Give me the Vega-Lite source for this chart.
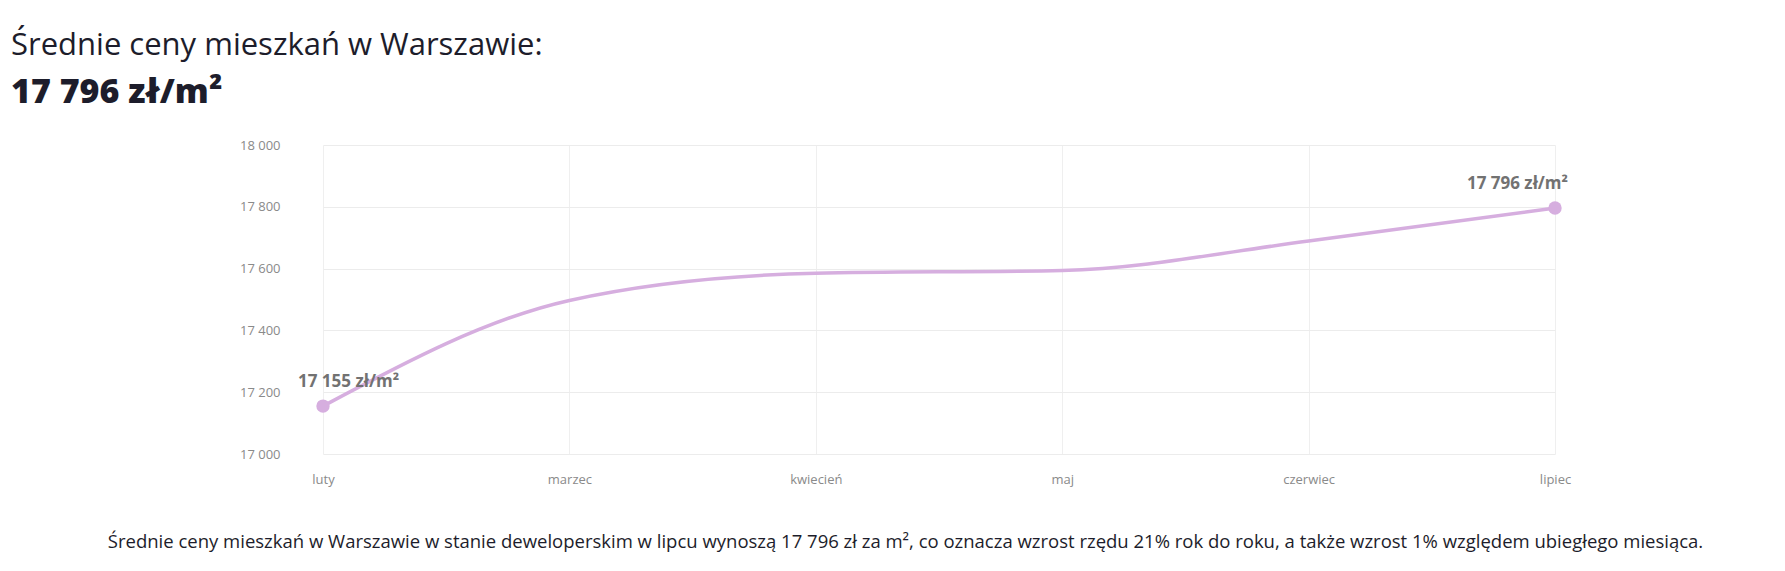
{
  "$schema": "https://vega.github.io/schema/vega-lite/v6.json",
  "width": 1270,
  "height": 309,
  "autosize": "none",
  "padding": {"left": 298, "top": 145, "right": 217, "bottom": 117},
  "background": "white",
  "config": {
    "font": "Open Sans",
    "view": {"stroke": null}
  },
  "title": {
    "text": "Średnie ceny mieszkań w Warszawie:",
    "subtitle": "17 796 zł/m²",
    "anchor": "start",
    "frame": "group",
    "dx": -287,
    "offset": 28,
    "font": "Open Sans",
    "fontSize": 31,
    "fontWeight": "normal",
    "color": "#1d1d2b",
    "subtitleFont": "Open Sans",
    "subtitleFontSize": 34,
    "subtitleFontWeight": 800,
    "subtitleColor": "#1d1d2b",
    "subtitlePadding": 14
  },
  "data": {
    "values": [
      {"month": "luty", "price": 17155, "label": "17 155 zł/m²"},
      {"month": "marzec", "price": 17497},
      {"month": "kwiecień", "price": 17585},
      {"month": "maj", "price": 17594},
      {"month": "czerwiec", "price": 17689},
      {"month": "lipiec", "price": 17796, "label": "17 796 zł/m²"}
    ]
  },
  "encoding": {
    "x": {
      "field": "month",
      "type": "ordinal",
      "sort": null,
      "scale": {"type": "point", "range": [25, 1257], "padding": 0},
      "axis": {
        "title": "Średnie ceny mieszkań w Warszawie w stanie deweloperskim w lipcu wynoszą 17 796 zł za m², co oznacza wzrost rzędu 21% rok do roku, a także wzrost 1% względem ubiegłego miesiąca.",
        "titleFont": "Open Sans",
        "titleFontSize": 18.5,
        "titleFontWeight": "normal",
        "titleColor": "#1d1d2b",
        "titleX": 607,
        "titleY": 93,
        "titleAlign": "center",
        "titleBaseline": "alphabetic",
        "labelAngle": 0,
        "labelFontSize": 13,
        "labelColor": "#8a8a8a",
        "labelPadding": 19,
        "ticks": false,
        "domain": false,
        "grid": true,
        "gridColor": "#efefef",
        "gridWidth": 1
      }
    },
    "y": {
      "field": "price",
      "type": "quantitative",
      "scale": {"domain": [17000, 18000], "nice": false, "zero": false},
      "axis": {
        "title": null,
        "values": [17000, 17200, 17400, 17600, 17800, 18000],
        "labelExpr": "replace(format(datum.value, ','), ',', ' ')",
        "labelFontSize": 13,
        "labelColor": "#8a8a8a",
        "labelPadding": 18,
        "ticks": false,
        "domain": false,
        "grid": true,
        "gridColor": "#ececec",
        "gridWidth": 1
      }
    }
  },
  "layer": [
    {
      "mark": {"type": "line", "interpolate": "monotone", "color": "#d6aedf", "strokeWidth": 3.5}
    },
    {
      "transform": [{"filter": "datum.label != null"}],
      "mark": {"type": "point", "filled": true, "opacity": 1, "size": 180, "color": "#d6aedf"}
    },
    {
      "transform": [{"filter": "datum.month == 'luty'"}],
      "mark": {"type": "text", "align": "left", "dx": -25, "dy": -24, "fontSize": 17, "fontWeight": "bold", "color": "#727272"},
      "encoding": {"text": {"field": "label"}}
    },
    {
      "transform": [{"filter": "datum.month == 'lipiec'"}],
      "mark": {"type": "text", "align": "right", "dx": 13, "dy": -24, "fontSize": 17, "fontWeight": "bold", "color": "#727272"},
      "encoding": {"text": {"field": "label"}}
    }
  ]
}
